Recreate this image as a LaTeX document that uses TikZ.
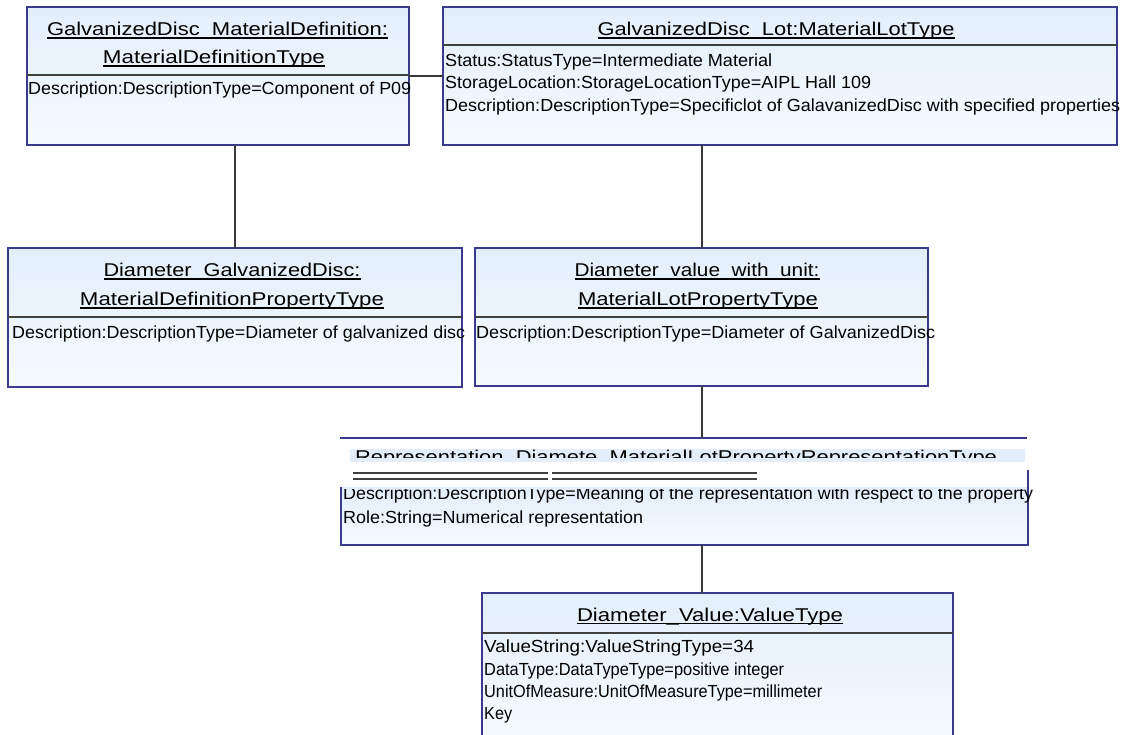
\documentclass[tikz,border=0pt]{standalone}
\usepackage{fontspec}
\setmainfont{Liberation Sans}
\usepackage{graphicx}
\definecolor{bordc}{HTML}{3A3A8C}
\definecolor{boxtop}{HTML}{E2EFFB}
\definecolor{boxbot}{HTML}{F6FAFE}
\definecolor{connc}{HTML}{3A3A3A}
\newcommand\fitw[2]{\resizebox{#1pt}{\height}{#2}}
\newcommand\ulw[1]{\setbox0\hbox{#1}\rlap{\rule[-2.8pt]{\wd0}{1.3pt}}\box0}
\tikzset{
  box/.style={draw=bordc, line width=1.8pt, top color=boxtop, bottom color=boxbot, inner sep=0pt, outer sep=0pt, rectangle},
  ttl/.style={anchor=base, inner sep=0pt, font=\fontsize{18.5}{21}\selectfont},
  attr/.style={anchor=base west, inner sep=0pt, font=\fontsize{17.5}{20}\selectfont},
  sepline/.style={draw=black!75, line width=1.4pt},
  conn/.style={draw=connc, line width=2pt}
}
\begin{document}
\begin{tikzpicture}[x=1pt,y=-1pt]
\useasboundingbox (0,0) rectangle (1130,735);
% boxes
\node[box, minimum width=382pt, minimum height=138pt] (b1) at (218,76) {};
\node[box, minimum width=674pt, minimum height=138pt] (b2) at (780,76) {};
\node[box, minimum width=454pt, minimum height=139pt] (b3) at (235,317.5) {};
\node[box, minimum width=453pt, minimum height=138pt] (b4) at (701.5,317) {};
\node[box, minimum width=471pt, minimum height=152pt] (b6) at (717.5,669) {};
% box 1
\draw[sepline] (b1.west |- 0,75) -- (b1.east |- 0,75);
\node[ttl] (b1t1) at (217.5,36) {\fitw{341}{\ulw{GalvanizedDisc\_MaterialDefinition:}}};
\node[ttl] (b1t2) at (214,64) {\fitw{222}{\ulw{MaterialDefinitionType}}};
\node[attr] (b1a1) at (28,95) {\fitw{383}{Description:DescriptionType=Component of P09}};
% box 2
\draw[sepline] (b2.west |- 0,45) -- (b2.east |- 0,45);
\node[ttl] (b2t1) at (776,36) {\fitw{357}{\ulw{GalvanizedDisc\_Lot:MaterialLotType}}};
\node[attr] (b2a1) at (445,67) {\fitw{327}{Status:StatusType=Intermediate Material}};
\node[attr] (b2a2) at (445,89) {\fitw{426}{StorageLocation:StorageLocationType=AIPL Hall 109}};
\node[attr] (b2a3) at (445,112) {\fitw{675}{Description:DescriptionType=Specificlot of GalavanizedDisc with specified properties}};
% box 3
\draw[sepline] (b3.west |- 0,317) -- (b3.east |- 0,317);
\node[ttl] (b3t1) at (232,277) {\fitw{257}{\ulw{Diameter\_GalvanizedDisc:}}};
\node[ttl] (b3t2) at (232,306) {\fitw{304}{\ulw{MaterialDefinitionPropertyType}}};
\node[attr] (b3a1) at (12,339) {\fitw{453}{Description:DescriptionType=Diameter of galvanized disc}};
% box 4
\draw[sepline] (b4.west |- 0,317) -- (b4.east |- 0,317);
\node[ttl] (b4t1) at (697,277) {\fitw{245}{\ulw{Diameter\_value\_with\_unit:}}};
\node[ttl] (b4t2) at (698,306) {\fitw{240}{\ulw{MaterialLotPropertyType}}};
\node[attr] (b4a1) at (476,339) {\fitw{459}{Description:DescriptionType=Diameter of GalvanizedDisc}};
% box 5 (representation)
\coordinate (reptop) at (701.5,438);
\draw[draw=bordc, line width=1.8pt] (340,438) -- (1027,438);
\fill[boxtop] (350,449) rectangle (1025,462);
\begin{scope}
\clip (330,440) rectangle (1040,457);
\node[ttl] (b5t) at (676,463) {\fitw{642}{Representation\_Diamete\_MaterialLotPropertyRepresentationType}};
\end{scope}
\draw[sepline, line width=1.3pt] (353,473) -- (548,473) (552,473) -- (757,473);
\draw[sepline, line width=1.3pt] (353,479) -- (548,479) (552,479) -- (757,479);
\node[rectangle, inner sep=0pt, outer sep=0pt, top color=boxtop, bottom color=boxbot, minimum width=687pt, minimum height=58pt, anchor=north west] (b5) at (341,487) {};
\draw[draw=bordc, line width=1.8pt] (b5.north west) -- (b5.south west) -- (b5.south east) -- ([yshift=17pt]b5.north east);
\begin{scope}
\clip (330,489) rectangle (1045,540);
\node[attr] (b5a1) at (343,499) {\fitw{690}{Description:DescriptionType=Meaning of the representation with respect to the property}};
\end{scope}
\node[attr] (b5a2) at (343,523) {\fitw{300}{Role:String=Numerical representation}};
\coordinate (repbot) at (701.5,545);
% box 6
\draw[sepline] (b6.west |- 0,633) -- (b6.east |- 0,633);
\node[ttl] (b6t1) at (710,621) {\fitw{266}{\ulw{Diameter\_Value:ValueType}}};
\node[attr] (b6a1) at (484,652) {\fitw{270}{ValueString:ValueStringType=34}};
\node[attr] (b6a2) at (484,675) {\fitw{300}{DataType:DataTypeType=positive integer}};
\node[attr] (b6a3) at (484,697) {\fitw{338}{UnitOfMeasure:UnitOfMeasureType=millimeter}};
\node[attr] (b6a4) at (484,719) {\fitw{28}{Key}};
% connectors
\draw[conn] (b1.east) -- (b2.west);
\draw[conn] (b1.south -| b3.north) -- (b3.north);
\draw[conn] (b2.south -| b4.north) -- (b4.north);
\draw[conn] (b4.south) -- (reptop);
\draw[conn] (repbot) -- (b6.north -| repbot);
\end{tikzpicture}
\end{document}
